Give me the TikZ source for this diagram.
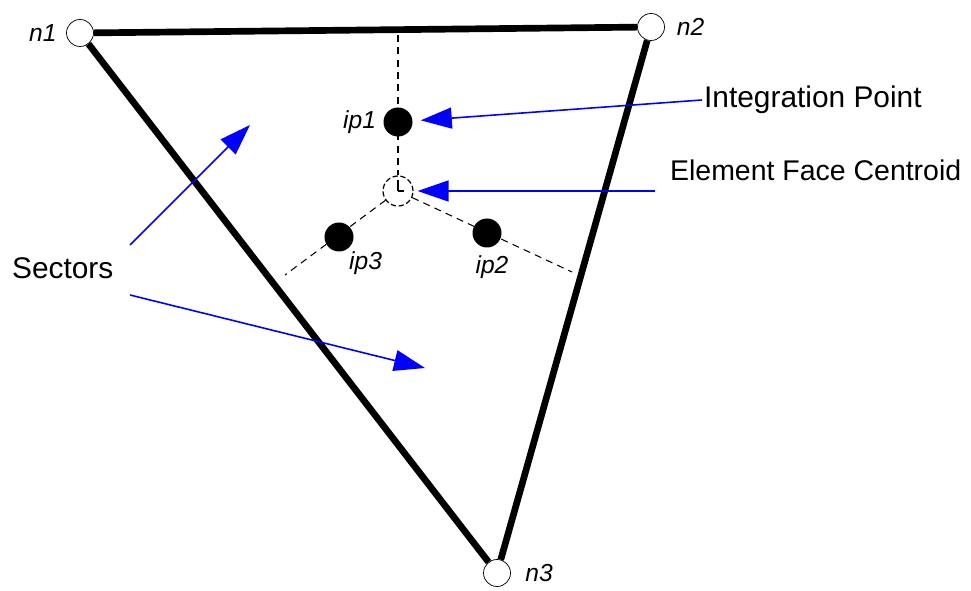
\documentclass[tikz,border=0pt]{standalone}
\usepackage{fontspec}
\setmainfont{Liberation Sans}
\usepackage{tikz}
\usetikzlibrary{arrows.meta, positioning, calc}
\definecolor{pureblue}{RGB}{0,0,255}
\tikzset{
  vertex/.style={circle, draw=black, thin, fill=white, inner sep=0pt,
                 minimum size=0.54cm},
  ipoint/.style={circle, fill=black, inner sep=0pt, minimum size=0.58cm},
  centroid/.style={circle, draw=black, dash pattern=on 3pt off 1.5pt,
                   line width=0.7pt, fill=white, inner sep=0pt,
                   minimum size=0.6cm},
  edge/.style={line width=3.8pt, draw=black},
  guide/.style={dash pattern=on 4pt off 3pt, line width=0.6pt, draw=black},
  pointer/.style={-{Triangle[length=0.62cm, width=0.42cm]}, line width=0.9pt,
                  draw=pureblue},
  lbl/.style={font=\fontsize{14}{16}\selectfont\itshape, inner sep=1pt},
  callout/.style={font=\fontsize{17}{20}\selectfont, inner sep=1pt, anchor=west},
}
\begin{document}
\begin{tikzpicture}
  \useasboundingbox (0,0) rectangle (19.42,11.8);

  % Triangle corners
  \node[vertex] (n1) at (1.6,11.14) {};
  \node[vertex] (n2) at (13.02,11.26) {};
  \node[vertex] (n3) at (9.94,0.34) {};

  % Face centroid and guide ends
  \node[centroid] (cen) at (7.96,7.98) {};
  \coordinate (gtop) at (7.96,11.1);
  \coordinate (gleft) at (5.7,6.3);
  \coordinate (gright) at (11.44,6.36);

  % Sector guides
  \draw[guide] (gtop) -- (cen);
  \draw[guide] (cen) -- (gleft);
  \draw[guide] (cen) -- (gright);

  % Edges
  \draw[edge] (n1) -- (n2);
  \draw[edge] (n2) -- (n3);
  \draw[edge] (n3) -- (n1);

  % Integration points
  \node[ipoint] (ip1) at (7.96,9.36) {};
  \node[ipoint] (ip3) at (6.78,7.06) {};
  \node[ipoint] (ip2) at (9.74,7.14) {};

  % Clock hands in the centroid
  \draw[line width=0.6pt] (cen.center) -- ++(0,0.22);
  \draw[line width=0.6pt] (cen.center) -- ++(0.12,0);

  % Labels
  \node[lbl, left=0.15cm of n1] {n1};
  \node[lbl, right=0.2cm of n2] {n2};
  \node[lbl, right=0.25cm of n3] {n3};
  \node[lbl, left=0.1cm of ip1] {ip1};
  \node[lbl, below right=0.05cm and -0.05cm of ip3] {ip3};
  \node[lbl, below=0.12cm of ip2, xshift=0.1cm] {ip2};

  % Callouts
  \node[callout] (intpt) at (14.04,9.8) {Integration Point};
  \node[callout, font=\fontsize{16.2}{19}\selectfont] (facecen) at (13.36,8.4)
    {Element Face Centroid};
  \node[callout] (sectors) at (0.2,6.44) {Sectors};

  % Sector targets
  \coordinate (s1a) at (2.6,6.9);
  \coordinate (s1b) at (5.0,9.3);
  \coordinate (s2a) at (2.6,5.9);
  \coordinate (s2b) at (8.5,4.44);

  % Arrows
  \draw[pointer, shorten >=0.16cm] (intpt.west) -- (ip1);
  \draw[pointer, shorten >=0.08cm] ([xshift=-0.26cm]facecen.west |- cen) -- (cen);
  \draw[pointer] (s1a) -- (s1b);
  \draw[pointer] (s2a) -- (s2b);
\end{tikzpicture}
\end{document}
